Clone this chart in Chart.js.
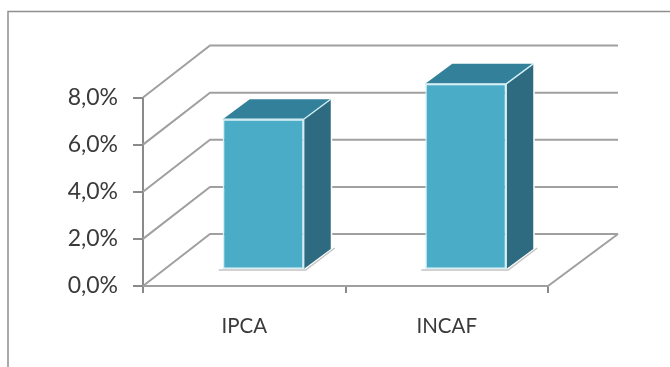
<!DOCTYPE html>
<html>
<head>
<meta charset="utf-8">
<title>IPCA x INCAF</title>
<script src="https://cdn.jsdelivr.net/npm/chart.js@4"></script>
<style>
  html, body { margin: 0; padding: 0; background: #fff; overflow: hidden; }
  canvas { display: block; }
</style>
</head>
<body>
<canvas id="myChart" width="670" height="367"></canvas>
<script>
var categories = ['IPCA', 'INCAF'];
var seriesValues = [6.4, 7.9];
var tickValues = [0, 2, 4, 6, 8];

var lineGray = '#a0a0a0';
var axisGray = '#8a8a8a';

// how far the back wall sits from the axes, and where the bars stand on the floor
var wallX = 67, wallY = -52;
var barShiftX = 19, barShiftY = -16;
var depthX = 27, depthY = -20;

function face(ctx, points, fill) {
    ctx.beginPath();
    points.forEach(function(p, i) {
        if (i == 0) ctx.moveTo(p[0], p[1]);
        else ctx.lineTo(p[0], p[1]);
    });
    ctx.closePath();
    ctx.fillStyle = fill;
    ctx.fill();
}

var boxPlugin = {
    id: 'box3d',
    // outer frame, only top and left are visible
    beforeDraw: function(chart) {
        var ctx = chart.ctx;
        ctx.save();
        ctx.strokeStyle = '#8f8f8f';
        ctx.lineWidth = 1.5;
        ctx.beginPath();
        ctx.moveTo(8, chart.height);
        ctx.lineTo(8, 11.5);
        ctx.lineTo(chart.width, 11.5);
        ctx.stroke();
        ctx.restore();
    },
    // side wall, back wall and floor
    beforeDatasetsDraw: function(chart) {
        var ctx = chart.ctx, area = chart.chartArea, y = chart.scales.y;
        ctx.save();
        ctx.strokeStyle = lineGray;
        ctx.lineWidth = 2;
        tickValues.forEach(function(v) {
            var py = y.getPixelForValue(v);
            ctx.beginPath();
            ctx.moveTo(area.left, py);
            ctx.lineTo(area.left + wallX, py + wallY);
            ctx.lineTo(area.right + wallX + 3, py + wallY);
            ctx.stroke();
        });
        var floorY = y.getPixelForValue(0);
        ctx.beginPath();
        ctx.moveTo(area.left, floorY);
        ctx.lineTo(area.right, floorY);
        ctx.lineTo(area.right + wallX + 3, floorY + wallY);
        ctx.stroke();

        // thin shadow each bar leaves on the floor
        ctx.strokeStyle = '#c4c4c4';
        ctx.lineWidth = 1.5;
        chart.getDatasetMeta(0).data.forEach(function(bar) {
            var l = bar.x - bar.width / 2 + barShiftX;
            var r = bar.x + bar.width / 2 + barShiftX;
            var b = bar.base + barShiftY;
            ctx.beginPath();
            ctx.moveTo(l - 4, b + 1);
            ctx.lineTo(r + 2, b + 1);
            ctx.lineTo(r + depthX + 4, b + depthY - 1);
            ctx.stroke();
        });
        ctx.restore();

        // front faces are drawn by the bar controller, pushed onto the floor
        ctx.save();
        ctx.translate(barShiftX, barShiftY);
    },
    afterDatasetsDraw: function(chart) {
        var ctx = chart.ctx;
        chart.getDatasetMeta(0).data.forEach(function(bar) {
            var l = bar.x - bar.width / 2, r = bar.x + bar.width / 2;
            var t = bar.y, b = bar.base;
            var top = [[l, t], [l + depthX, t + depthY], [r + depthX, t + depthY], [r, t]];
            var side = [[r, t], [r + depthX, t + depthY], [r + depthX, b + depthY], [r, b]];
            // keep a pale halo so the grid lines stop short of the bar
            ctx.strokeStyle = '#ffffff';
            ctx.lineWidth = 3;
            ctx.beginPath();
            ctx.moveTo(r + depthX, t + depthY);
            ctx.lineTo(r + depthX, b + depthY);
            ctx.stroke();
            face(ctx, top, '#33809a');
            face(ctx, side, '#2e6b80');
            ctx.strokeStyle = '#d6f1f6';
            ctx.lineWidth = 1.3;
            ctx.beginPath();
            ctx.moveTo(r, t);
            ctx.lineTo(r + depthX, t + depthY);
            ctx.moveTo(r, t);
            ctx.lineTo(r, b);
            ctx.moveTo(l, t);
            ctx.lineTo(r, t);
            ctx.stroke();
        });
        ctx.restore();
    }
};

var config = {
    type: 'bar',
    data: {
        labels: categories,
        datasets: [{
            data: seriesValues,
            backgroundColor: '#4bacc8',
            borderColor: '#d6f1f6',
            borderWidth: 1.5,
            borderSkipped: false,
            categoryPercentage: 0.4,
            barPercentage: 1
        }]
    },
    options: {
        responsive: false,
        animation: false,
        layout: { padding: { top: 97.5, right: 122, left: 0, bottom: 0 } },
        plugins: { legend: { display: false }, tooltip: { enabled: false } },
        scales: {
            x: {
                afterFit: function(scale) { scale.height = 81; },
                grid: { drawOnChartArea: false, color: axisGray, lineWidth: 2, tickLength: 7 },
                border: { color: axisGray, width: 2 },
                ticks: { color: '#3a3a3a', padding: 21, maxRotation: 0, font: { family: 'Lato', size: 20.5 } }
            },
            y: {
                min: 0,
                max: 8,
                afterFit: function(scale) { scale.width = 143; },
                afterBuildTicks: function(scale) {
                    scale.ticks = tickValues.map(function(v) { return { value: v }; });
                },
                grid: { drawOnChartArea: false, color: axisGray, lineWidth: 2, tickLength: 10 },
                border: { color: axisGray, width: 2 },
                ticks: {
                    color: '#3a3a3a',
                    padding: 15,
                    font: { family: 'Lato', size: 23 },
                    callback: function(v) { return v.toFixed(1).replace('.', ',') + '%'; }
                }
            }
        }
    },
    plugins: [boxPlugin]
};

window.onload = function() {
    var ctx = document.getElementById('myChart').getContext('2d');
    window.myBar = new Chart(ctx, config);
};
</script>
</body>
</html>
